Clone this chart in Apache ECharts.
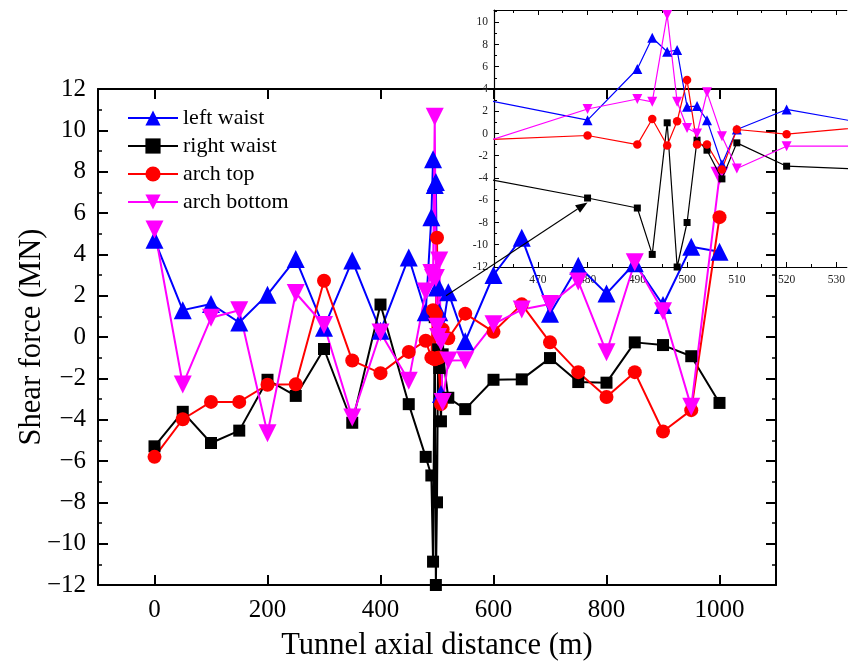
<!DOCTYPE html>
<html><head><meta charset="utf-8">
<script src="https://cdn.jsdelivr.net/npm/echarts@6/dist/echarts.min.js"></script>
<style>html,body{margin:0;padding:0;background:#fff}#c{width:848px;height:666px}</style>
</head><body><div id="c"></div>
<script>
// ---------- data ----------
const distances = [0,50,100,150,200,250,300,350,400,450,480,490,493,496,498,500,502,504,507,510,520,550,600,650,700,750,800,850,900,950,1000];
const leftWaist  = [4.7,1.3,1.6,0.7,2.05,3.78,0.45,3.7,0.3,3.85, 1.2,5.8,8.6,7.35,7.5,2.4,2.46,1.2,-2.76,0.36,2.16, -0.2,3.0,4.8,1.13,3.45,2.1,3.57,1.55,4.37,4.13];
const rightWaist = [-5.29,-3.62,-5.13,-4.53,-2.07,-2.85,-0.58,-4.15,1.57,-3.25, -5.8,-6.7,-10.87,0.96,-12.0,-8.0,-0.6,-1.5,-4.08,-0.84,-2.94, -3.49,-2.07,-2.05,-1.02,-2.18,-2.21,-0.26,-0.39,-0.93,-3.19];
const archTop    = [-5.8,-3.98,-3.14,-3.14,-2.31,-2.29,2.72,-1.14,-1.75,-0.72, -0.18,-1.0,1.3,-1.08,1.1,4.8,-1.0,-1.0,-3.24,0.36,-0.06, 1.13,0.25,1.58,-0.26,-1.7,-2.9,-1.7,-4.57,-3.54,5.8];
const archBottom = [5.2,-2.3,0.93,1.29,-4.66,2.13,0.58,-3.9,0.22,-2.12, 2.2,3.1,2.85,10.66,2.85,0.5,0.0,3.7,-0.24,-3.15,-1.14, -1.12,0.62,1.33,1.6,2.69,-0.74,3.62,1.25,-3.38,7.8];
const seriesNames = ['left waist','right waist','arch top','arch bottom'];
const mainXTicks = [0,200,400,600,800,1000];
const insetXTicks = [470,480,490,500,510,520,530];
const insetXMinor = [465,475,485,495,505,515,525];
const insetYTicks = [-12,-10,-8,-6,-4,-2,0,2,4,6,8,10];
const insetYMinor = [-11,-9,-7,-5,-3,-1,1,3,5,7,9,11];
const arrowFrom = [516, 2.0];   // main-plot coordinates
const arrowTo = [480.0, -6.2];  // inset coordinates

// ---------- styles ----------
const FONT = 'Liberation Serif';
const colors = ['#0000ff','#000000','#ff0000','#ff00ff'];
const symbols = ['triangle','rect','circle','triangle'];
const rotates = [0,0,0,180];
const mainSizes = [18,12,14,18];
const insetSizes = [10,7,8.5,10];
const allValues = [leftWaist, rightWaist, archTop, archBottom];

const chart = echarts.init(document.getElementById('c'), null, {renderer:'canvas'});

function mainX(pos, showLabel){
  return {type:'value', gridIndex:0, position:pos, min:-100, max:1100,
    axisLine:{show:true, onZero:false, lineStyle:{color:'#000', width:2}},
    axisTick:{show:true, inside:true, length:10, customValues:mainXTicks, lineStyle:{color:'#000', width:2}},
    axisLabel:{show:showLabel, customValues:mainXTicks, fontFamily:FONT, fontSize:25, color:'#000', margin:13,
      formatter:v => String(v)},
    splitLine:{show:false},
    name: showLabel ? 'Tunnel axial distance (m)' : '',
    nameLocation:'middle', nameGap:45, nameMoveOverlap:false,
    nameTextStyle:{fontFamily:FONT, fontSize:30.5, color:'#000'}};
}
function mainY(pos, showLabel){
  return {type:'value', gridIndex:0, position:pos, min:-12, max:12, interval:2,
    axisLine:{show:true, onZero:false, lineStyle:{color:'#000', width:2}},
    axisTick:{show:true, inside:true, length:10, lineStyle:{color:'#000', width:2}},
    minorTick:{show:true, splitNumber:2, length:4, lineStyle:{color:'#000', width:1.5}},
    axisLabel:{show:showLabel, fontFamily:FONT, fontSize:25, color:'#000', margin:12,
      formatter:v => String(v).replace('-', '\u2212')},
    splitLine:{show:false},
    name: showLabel ? 'Shear force (MN)' : '',
    nameLocation:'middle', nameGap:51, nameMoveOverlap:false,
    nameTextStyle:{fontFamily:FONT, fontSize:30.5, color:'#000'}};
}
function insetX(pos, major){
  return {type:'value', gridIndex:1, position:pos, min:461.2, max:532.1,
    axisLine:{show:major, onZero:false, lineStyle:{color:'#000', width:1.2}},
    axisTick:{show:true, inside:true, length: major?5:3, customValues: major?insetXTicks:insetXMinor, lineStyle:{color:'#000', width:1}},
    axisLabel:{show: major && pos==='bottom', customValues:insetXTicks, fontFamily:FONT, fontSize:11.5, color:'#222', margin:7,
      formatter:v => String(v)},
    splitLine:{show:false}};
}
function insetY(major){
  return {type:'value', gridIndex:1, position:'left', min:-12, max:11.1,
    axisLine:{show:major, onZero:false, lineStyle:{color:'#000', width:1.2}},
    axisTick:{show:true, inside:true, length: major?5:3, customValues: major?insetYTicks:insetYMinor, lineStyle:{color:'#000', width:1}},
    axisLabel:{show: major, customValues:insetYTicks, fontFamily:FONT, fontSize:11.5, color:'#222', margin:6},
    splitLine:{show:false}};
}

const series = [];
for (let i=0;i<4;i++){
  const data = distances.map((d,k)=>[d, allValues[i][k]]);
  series.push({name:seriesNames[i], type:'line', xAxisIndex:0, yAxisIndex:0, data,
    symbol:symbols[i], symbolRotate:rotates[i], symbolSize:mainSizes[i], showSymbol:true,
    lineStyle:{color:colors[i], width:2}, itemStyle:{color:colors[i], borderWidth:0},
    clip:true, z:2, emphasis:{disabled:true}});
}
for (let i=0;i<4;i++){
  const data = distances.map((d,k)=>[d, allValues[i][k]]);
  series.push({name:seriesNames[i], type:'line', xAxisIndex:2, yAxisIndex:2, data,
    symbol:symbols[i], symbolRotate:rotates[i], symbolSize:insetSizes[i], showSymbol:true,
    lineStyle:{color:colors[i], width:1.2}, itemStyle:{color:colors[i], borderWidth:0},
    clip:true, z:3, emphasis:{disabled:true}});
}

const option = {
  animation:false,
  backgroundColor:'#fff',
  grid:[
    {left:98, right:72, top:89, bottom:76, containLabel:false},
    {left:494, right:-2, top:10, bottom:399, containLabel:false}
  ],
  xAxis:[ mainX('bottom', true), mainX('top', false),
          insetX('bottom', true), insetX('bottom', false), insetX('top', true), insetX('top', false) ],
  yAxis:[ mainY('left', true), mainY('right', false), insetY(true), insetY(false) ],
  legend:{show:true, orient:'vertical', left:127, top:107, padding:0, itemWidth:50, itemHeight:19, itemGap:6,
    data:seriesNames, textStyle:{fontFamily:FONT, fontSize:22, color:'#000'}, selectedMode:false},
  series
};
chart.setOption(option);

// arrow from the cluster in the main plot to the inset
const p0 = chart.convertToPixel({seriesIndex:0}, arrowFrom);
const p1 = chart.convertToPixel({seriesIndex:4}, arrowTo);
const ang = Math.atan2(p1[1]-p0[1], p1[0]-p0[0]);
const L = 12, W = 4.5;
const base = [p1[0]-L*Math.cos(ang), p1[1]-L*Math.sin(ang)];
const lp = [base[0]+W*Math.sin(ang), base[1]-W*Math.cos(ang)];
const rp = [base[0]-W*Math.sin(ang), base[1]+W*Math.cos(ang)];
chart.setOption({graphic:[
  {type:'line', z:10, shape:{x1:p0[0], y1:p0[1], x2:base[0], y2:base[1]}, style:{stroke:'#000', lineWidth:1.1}},
  {type:'polygon', z:10, shape:{points:[p1, lp, rp]}, style:{fill:'#000'}}
]});
</script>
</body></html>
